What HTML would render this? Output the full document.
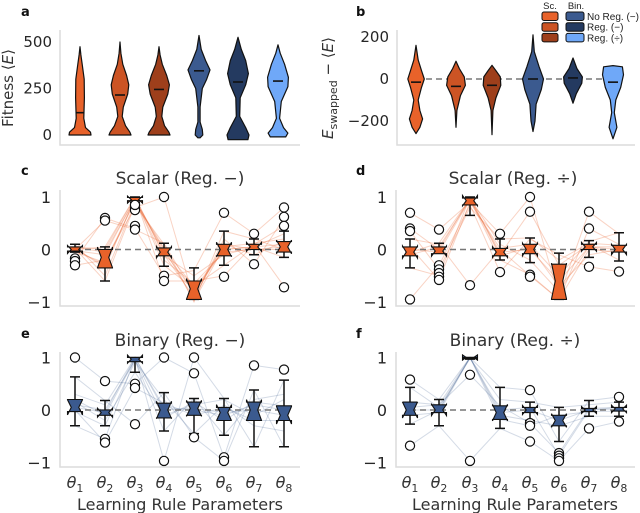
<!DOCTYPE html>
<html><head><meta charset="utf-8"><style>
html,body{margin:0;padding:0;background:#fff}
svg{display:block;font-family:"DejaVu Sans","Liberation Sans",sans-serif}
</style></head><body>
<svg id="fig" width="640" height="513" viewBox="0 0 640 513" xmlns="http://www.w3.org/2000/svg">
<g id="gA"></g>
<g id="gB"></g>
<g id="gC"></g>
<g id="gD"></g>
<g id="gE"></g>
<g id="gF"></g>
</svg>
<script>
// ---------- data ----------
const violinColors = ["#e8622a","#cc5424","#9e3f1b","#3b5a8f","#243a60","#6fa8f8"];
const legendLabels = ["No Reg. (\u2212)","Reg. (\u2212)","Reg. (\u00f7)"];
const fitnessTicks = [0,250,500];
const fitnessMedians = [120,215,245,345,285,290];
const fitnessProfiles = [
 [[0,1],[15,0.95],[40,0.5],[90,0.35],[200,0.4],[300,0.38],[380,0.2],[430,0.08],[475,0]],
 [[0,1],[15,0.9],[50,0.5],[100,0.2],[150,0.3],[220,0.7],[270,0.8],[320,0.6],[380,0.25],[440,0.08],[500,0]],
 [[0,1],[15,0.9],[50,0.5],[100,0.25],[150,0.35],[220,0.8],[270,0.95],[320,0.7],[380,0.3],[430,0.1],[475,0]],
 [[-15,0.1],[0,0.35],[30,0.3],[70,0.1],[150,0.1],[250,0.3],[300,0.7],[350,1.0],[400,0.6],[460,0.2],[535,0]],
 [[-25,0.9],[0,1.0],[40,0.7],[100,0.15],[200,0.2],[270,0.7],[330,0.95],[400,0.7],[460,0.3],[525,0]],
 [[-10,0.7],[10,0.9],[40,0.5],[90,0.15],[180,0.3],[260,0.9],[310,0.95],[380,0.6],[440,0.2],[485,0]]
];
const swapTicks = [-200,0,200];
const swapMedians = [-15,-35,-30,0,5,-15];
const swapProfiles = [
 [[-260,0],[-230,0.35],[-190,0.6],[-150,0.35],[-100,0.2],[-40,0.5],[0,0.75],[40,0.5],[90,0.2],[160,0]],
 [[-230,0],[-150,0.08],[-80,0.4],[-30,0.85],[10,0.75],[50,0.3],[85,0]],
 [[-265,0],[-150,0.08],[-90,0.35],[-30,0.8],[10,0.75],[40,0.35],[65,0]],
 [[-250,0],[-200,0.18],[-120,0.28],[-50,0.75],[0,0.95],[60,0.55],[130,0.12],[210,0]],
 [[-115,0],[-70,0.3],[-20,0.8],[10,0.85],[50,0.35],[100,0]],
 [[-285,0],[-230,0.35],[-160,0.12],[-100,0.25],[-40,0.7],[20,0.95],[58,0.85],[64,0]]
];
const paramLabels = ["1","2","3","4","5","6","7","8"];
const yTicksBox = [-1,0,1];
// box stats: [lo, q1, med, q3, hi]
const statsC = [[-0.05,-0.03,0,0.05,0.1],[-0.6,-0.35,-0.15,0,0.05],[0.9,0.93,0.95,0.99,1.0],[-0.32,-0.12,-0.05,0.03,0.12],[-0.95,-0.95,-0.75,-0.6,-0.35],[-0.3,-0.12,0,0.1,0.35],[-0.1,0,0.05,0.1,0.2],[-0.15,-0.05,0.05,0.15,0.35]];
const outC = [[-0.17,-0.22,-0.3],[0.6,0.55],[0.8,0.75,0.85,0.45,0.38],[1.0,-0.5,-0.6],[],[0.7,-0.52],[0.3,-0.28],[0.8,0.62,0.45,-0.72]];
const runsC = [[0,-0.3,0.95,-0.05,-0.8,0,0.05,0.1],[0.05,0,1,-0.1,-0.9,0.1,0,0.05],[-0.2,0.6,0.4,-0.5,-0.4,0.7,0.3,0.8],[0.1,-0.5,0.9,0,-0.7,-0.3,0.1,-0.7],[-0.3,-0.2,0.8,1.0,-0.95,0.2,-0.28,0.6],[0,0.05,1,-0.6,-0.6,-0.5,0.1,0.45],[0.02,-0.6,0.85,0.1,-1,0.35,0.2,0],[-0.02,-0.1,0.97,-0.3,-0.75,0,0.05,0.3],[0,0.55,0.38,0.12,-0.85,0.1,-0.1,0.15],[0.03,-0.35,0.99,-0.12,-0.5,-0.1,0.05,-0.15],[-0.05,-0.25,0.93,0.02,-0.98,0.05,0.12,0.2],[0.04,-0.05,0.96,-0.2,-0.65,-0.05,0,0.0]];
const statsD = [[-0.35,-0.12,-0.05,0.05,0.2],[-0.05,-0.08,-0.03,0.05,0.12],[0.65,0.85,0.93,0.98,1.0],[-0.2,-0.12,-0.05,0.02,0.2],[-0.25,-0.08,0,0.1,0.22],[-0.95,-0.95,-0.6,-0.28,-0.07],[-0.15,0,0.05,0.1,0.17],[-0.22,-0.05,0,0.08,0.32]];
const outD = [[0.7,0.4,0.35,-0.95],[0.38,-0.3,-0.38,-0.45,-0.52,-0.58],[-0.68],[0.3,-0.43],[1.0,0.72,-0.48,-0.52],[],[0.72,0.4,-0.33],[-0.42]];
const runsD = [[0,-0.05,0.95,-0.05,0,-0.6,0.05,0],[0.7,0.38,0.9,0.3,1.0,-0.9,0.72,0.3],[-0.35,-0.5,1,-0.1,0.72,-0.3,0.1,-0.2],[0.2,0.1,-0.68,0,-0.5,-0.95,0.4,0.1],[-0.95,-0.3,0.85,-0.43,0.2,-0.1,-0.33,-0.42],[0.4,0,0.98,0.1,-0.2,-0.8,0.05,0.05],[0.05,-0.58,0.9,0.02,0.1,-0.5,0.15,0.32],[-0.1,0.05,0.95,-0.2,-0.48,-0.95,0,-0.05],[0.35,-0.38,0.8,0.2,0.22,-0.2,0.12,0.08],[-0.05,0.12,0.97,-0.12,0.05,-0.7,-0.1,0]];
const statsE = [[-0.3,-0.03,0.05,0.2,0.63],[-0.3,-0.1,-0.05,0,0.18],[0.72,0.92,0.97,1.0,1.0],[-0.4,-0.15,0,0.13,0.33],[-0.45,-0.1,0.03,0.15,0.22],[-0.48,-0.2,-0.05,0.05,0.22],[-0.7,-0.2,0,0.15,0.38],[-0.7,-0.2,-0.1,0.08,0.57]];
const outE = [[1.0],[0.55,-0.55,-0.62],[0.5,0.42,-0.27],[1.0,-0.97],[1.0,0.7,-0.52],[-0.9,-0.97],[0.85],[0.77]];
const runsE = [[0.05,-0.05,1,0,0.03,-0.05,0,-0.1],[1.0,0.55,0.5,1.0,0.7,-0.9,0.85,0.77],[-0.3,-0.55,1,-0.97,1.0,0.22,-0.7,0.57],[0.63,0.18,-0.27,0.33,-0.52,-0.97,0.38,-0.7],[0.2,-0.1,0.97,-0.15,0.15,-0.2,0.15,0.08],[0,-0.62,0.42,0.13,-0.1,0.05,-0.2,-0.2],[0.1,0,0.95,-0.4,0.22,-0.48,0.2,0.3],[-0.03,-0.3,0.92,0.2,-0.45,0.1,-0.3,-0.4],[0.3,0.1,1,0.05,0,-0.1,0.1,0],[0.15,-0.2,0.72,-0.1,0.1,0.2,-0.1,0.2]];
const statsF = [[-0.27,-0.1,0,0.15,0.43],[-0.3,-0.05,0,0.1,0.2],[0.97,0.98,1.0,1.0,1.0],[-0.35,-0.18,-0.05,0.08,0.43],[-0.2,-0.05,0,0.05,0.15],[-0.6,-0.3,-0.2,-0.1,0.05],[-0.12,-0.03,0,0.03,0.18],[-0.12,-0.02,0.02,0.05,0.15]];
const outF = [[0.58,-0.68],[],[0.67,-0.97],[],[0.38,-0.25,-0.3,-0.6],[-0.82,-0.87,-0.92,-0.97],[-0.35],[0.25,-0.22]];
const runsF = [[0,0,1,-0.05,0,-0.2,0,0.02],[0.58,0.2,1,0.43,0.38,-0.6,0.18,0.25],[-0.68,-0.3,-0.97,-0.35,-0.6,-0.97,-0.35,-0.22],[0.15,0.1,0.67,0.08,-0.25,-0.82,0.03,0.05],[-0.1,-0.05,1,-0.18,-0.3,-0.1,-0.03,-0.02],[0.43,0.05,0.98,0.2,0.15,0.05,0.1,0.15],[-0.27,0,1,-0.1,-0.2,-0.3,-0.12,-0.12],[0.05,0.1,1,0,0.05,-0.87,0,0.05]];

// ---------- helpers ----------
const NS="http://www.w3.org/2000/svg";
function mk(parent,tag,attrs){const e=document.createElementNS(NS,tag);for(const k in attrs)e.setAttribute(k,attrs[k]);parent.appendChild(e);return e;}
function txt(parent,x,y,s,size,anchor,extra){const t=mk(parent,"text",Object.assign({x:x,y:y,"font-size":size,"text-anchor":anchor||"start",fill:"#262626"},extra||{}));t.textContent=s;return t;}

function axes(g,x0,x1,yTop,yBot){
  const s=mk(g,"path",{d:`M${x0},${yTop}V${yBot}H${x1}`,fill:"none",stroke:"#dcdcdc","stroke-width":1.5});
  
  
}

function violinPanel(g,opt){
  const yS=v=>opt.y0-(v-0)*opt.k;
  axes(g,opt.ax0,opt.ax1,opt.top,opt.bot);
  opt.ticks.forEach(t=>{
    const e=txt(g,opt.ax0-8,yS(t)+5,String(t).replace("-","\u2212"),15,"end");
    
    
  });
  if(opt.dash){
    const d=mk(g,"line",{x1:opt.xs[0],x2:opt.xs[5],y1:yS(0),y2:yS(0),stroke:"#999","stroke-width":2,"stroke-dasharray":"6,4"});
    
    
  }
  opt.profiles.forEach((p,i)=>{
    const cx=opt.xs[i];
    const right=p.map(q=>[cx+q[1]*opt.w,yS(q[0])]);
    const left=p.slice().reverse().map(q=>[cx-q[1]*opt.w,yS(q[0])]);
    const pts=right.concat(left);
    const v=mk(g,"polygon",{points:pts.map(q=>q[0].toFixed(1)+","+q[1].toFixed(1)).join(" "),fill:violinColors[i],stroke:"#111","stroke-width":1.2,"stroke-linejoin":"round"});
    
    
    const m=opt.medians[i];
    let hw=3;
    for(let j=0;j<p.length-1;j++){if(m>=p[j][0]&&m<=p[j+1][0]){const f=(m-p[j][0])/(p[j+1][0]-p[j][0]);hw=(p[j][1]+f*(p[j+1][1]-p[j][1]))*opt.w;}}
    hw=Math.max(3,Math.min(hw,5));
    const ml=mk(g,"line",{x1:cx-hw,x2:cx+hw,y1:yS(m),y2:yS(m),stroke:"#111","stroke-width":1.6});
    
    
  });
}

function boxPanel(g,opt){
  const yS=v=>opt.y0-v*opt.k;
  axes(g,opt.ax0,opt.ax1,opt.top,opt.bot);
  yTicksBox.forEach(t=>{
    const e=txt(g,opt.ax0-9,yS(t)+6,String(t).replace("-","\u2212"),16,"end");
    
    
  });
  const col=opt.color;
  opt.runs.forEach(r=>{
    const pl=mk(g,"polyline",{points:r.map((v,i)=>opt.xs[i]+","+yS(v).toFixed(1)).join(" "),fill:"none",stroke:opt.lineColor,"stroke-width":1});
    
    
  });
  const z=mk(g,"line",{x1:opt.xs[0],x2:opt.xs[7],y1:yS(0),y2:yS(0),stroke:"#777","stroke-width":1.6,"stroke-dasharray":"6,4"});
  
  
  const w=7.5,cap=5;
  opt.stats.forEach((s,i)=>{
    const cx=opt.xs[i];
    const [lo,q1,med,q3,hi]=s;
    const wk=mk(g,"path",{d:`M${cx},${yS(q1)}V${yS(lo)}M${cx-cap},${yS(lo)}H${cx+cap}M${cx},${yS(q3)}V${yS(hi)}M${cx-cap},${yS(hi)}H${cx+cap}`,stroke:"#111","stroke-width":1.5,fill:"none"});
    
    
    const n=0.45*(q3-q1)+0.04;
    const nl=med-n,nh=med+n;
    const pts=[[cx-w,q1],[cx-w,nl],[cx-w/2,med],[cx-w,nh],[cx-w,q3],[cx+w,q3],[cx+w,nh],[cx+w/2,med],[cx+w,nl],[cx+w,q1]];
    const b=mk(g,"polygon",{points:pts.map(q=>q[0]+","+yS(q[1]).toFixed(1)).join(" "),fill:col,stroke:"#111","stroke-width":1.1,"stroke-linejoin":"miter"});
    
    
    opt.outs[i].forEach(o=>{
      const c=mk(g,"circle",{cx:cx,cy:yS(o).toFixed(1),r:4.6,fill:"#fff",stroke:"#111","stroke-width":1.2});
      
      
    });
  });
  const tt=txt(g,opt.tcx,opt.ty,opt.title,17,"middle",{fill:"#333"});
  
  
  if(opt.xlabels){
    paramLabels.forEach((p,i)=>{
      const t=mk(g,"text",{x:opt.xs[i],y:488,"font-size":16,"text-anchor":"middle",fill:"#333","font-style":"italic"});
      
      
      t.appendChild(document.createTextNode("\u03b8"));
      const sb=document.createElementNS(NS,"tspan");sb.setAttribute("font-size","11");sb.setAttribute("dy","4");sb.setAttribute("font-style","normal");sb.textContent=p;t.appendChild(sb);
    });
    const xl=txt(g,opt.tcx,510,"Learning Rule Parameters",16,"middle",{fill:"#333"});
    
    
  }
}

function letter(g,x,y,s){const t=txt(g,x,y,s,13,"start",{"font-weight":"bold",fill:"#111"});}

// ---------- panel a ----------
const gA=document.getElementById("gA");
letter(gA,21,16,"a");
violinPanel(gA,{y0:135,k:93/500,ax0:60,ax1:300,top:30,bot:145,ticks:fitnessTicks,xs:[80,120,159,199,238,278],w:11,profiles:fitnessProfiles,medians:fitnessMedians,dash:false});
const yla=mk(gA,"text",{x:0,y:0,"font-size":15,"text-anchor":"middle",fill:"#333",transform:"translate(13,88) rotate(-90)"});


yla.innerHTML='Fitness \u27e8<tspan font-style="italic">E</tspan>\u27e9';

// ---------- panel b ----------
const gB=document.getElementById("gB");
letter(gB,356,16,"b");
violinPanel(gB,{y0:79,k:42/200,ax0:397,ax1:635,top:30,bot:145,ticks:swapTicks,xs:[416,456,492,533,573,613],w:11,profiles:swapProfiles,medians:swapMedians,dash:true});
const ylb=mk(gB,"text",{x:0,y:0,"font-size":15,"text-anchor":"middle",fill:"#333",transform:"translate(333,88) rotate(-90)"});


ylb.innerHTML='<tspan font-style="italic">E</tspan><tspan font-size="11" dy="4">swapped</tspan><tspan dy="-4"> \u2212 \u27e8</tspan><tspan font-style="italic">E</tspan>\u27e9';
// legend
const lg=mk(gB,"g",{});


txt(lg,550,9,"Sc.",9.5,"middle",{fill:"#222","font-family":"Liberation Sans, sans-serif"});
txt(lg,576,9,"Bin.",9.5,"middle",{fill:"#222","font-family":"Liberation Sans, sans-serif"});
for(let r=0;r<3;r++){
  const y=12+r*10.7;
  const s1=mk(lg,"rect",{x:542,y:y,width:16,height:8.5,rx:2,fill:violinColors[r],stroke:"#111","stroke-width":1});
  
  
  const s2=mk(lg,"rect",{x:566,y:y,width:18,height:8.5,rx:2,fill:violinColors[r+3],stroke:"#111","stroke-width":1});
  
  
  const lt=txt(lg,587,y+8,legendLabels[r],10,"start",{fill:"#222","font-family":"Liberation Sans, sans-serif"});
  
  
}

// ---------- panels c-f ----------
const xsL=[75,105,135,164,194,224,254,284], xsR=[410,439,470,500,530,559,589,619];
const orange="#e8622a", blue="#3b5a8f";
letter(document.getElementById("gC"),21,175,"c");
boxPanel(document.getElementById("gC"),{y0:249.5,k:52.5,ax0:60,ax1:300,top:190,bot:306,xs:xsL,stats:statsC,outs:outC,runs:runsC,color:orange,lineColor:"rgba(232,98,42,0.28)",title:"Scalar (Reg. \u2212)",tcx:180,ty:184});
letter(document.getElementById("gD"),356,175,"d");
boxPanel(document.getElementById("gD"),{y0:249.5,k:52.5,ax0:396,ax1:635,top:190,bot:306,xs:xsR,stats:statsD,outs:outD,runs:runsD,color:orange,lineColor:"rgba(232,98,42,0.28)",title:"Scalar (Reg. \u00f7)",tcx:513,ty:184});
letter(document.getElementById("gE"),21,338,"e");
boxPanel(document.getElementById("gE"),{y0:410,k:52.5,ax0:60,ax1:300,top:352,bot:467,xs:xsL,stats:statsE,outs:outE,runs:runsE,color:blue,lineColor:"rgba(59,90,143,0.22)",title:"Binary (Reg. \u2212)",tcx:180,ty:346,xlabels:true});
letter(document.getElementById("gF"),356,338,"f");
boxPanel(document.getElementById("gF"),{y0:410,k:52.5,ax0:396,ax1:635,top:352,bot:467,xs:xsR,stats:statsF,outs:outF,runs:runsF,color:blue,lineColor:"rgba(59,90,143,0.22)",title:"Binary (Reg. \u00f7)",tcx:515,ty:346,xlabels:true});
</script>
</body></html>
